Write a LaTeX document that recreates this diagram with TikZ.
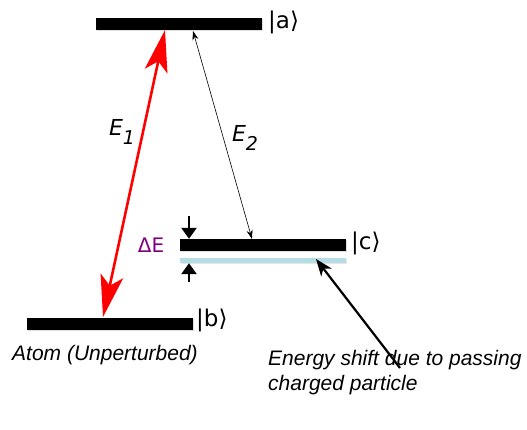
\documentclass[tikz,border=0pt]{standalone}
\usepackage{fontspec}
\setmainfont{DejaVu Sans}
\newfontfamily\notefont{Liberation Sans}
\usetikzlibrary{arrows.meta, positioning, shadows}
\definecolor{shiftblue}{RGB}{180,222,228}
\definecolor{deltapurple}{RGB}{128,0,128}
\tikzset{
  level/.style={rectangle, fill=black, minimum width=166pt, minimum height=12pt, inner sep=0pt,
    drop shadow={opacity=0.25, shadow xshift=1.5pt, shadow yshift=-1.5pt}},
  shiftlevel/.style={rectangle, fill=shiftblue, minimum width=166pt, minimum height=5pt, inner sep=0pt,
    drop shadow={opacity=0.2, shadow xshift=1.5pt, shadow yshift=-1.5pt}},
  ket/.style={font=\fontsize{23}{26}\selectfont, inner sep=0pt, anchor=west},
  energy/.style={font=\fontsize{22}{26}\selectfont\itshape, inner sep=0pt},
  note/.style={font=\fontsize{21}{25}\selectfont\notefont\itshape, inner sep=0pt, align=left},
  redarrow/.style={red, line width=2.6pt, {Stealth[length=42pt, width=23pt, inset=10pt]}-{Stealth[length=42pt, width=23pt, inset=10pt]}},
  thinarrow/.style={black, line width=0.6pt, {Stealth[length=9pt, width=6pt]}-{Stealth[length=9pt, width=6pt]}},
  gaparrow/.style={black, line width=2.6pt, -{Triangle[length=11pt, width=15pt]}},
  pointer/.style={black, line width=2.2pt, -{Stealth[length=17pt, width=13pt, inset=5pt]}}
}
\newcommand{\lowsub}[1]{\raisebox{-0.38em}{\fontsize{19}{20}\selectfont #1}}

\begin{document}
\begin{tikzpicture}[x=1pt, y=-1pt]
  \useasboundingbox (0,0) rectangle (527,430);

  % --- Niveles de energia ---
  \node[level] (levA) at (178.5,24) {};
  \node[level] (levB) at (109.5,323.5) {};
  \node[level] (levC) at (262.5,245) {};
  \node[shiftlevel] (shiftC) at (262.5,260.5) {};

  \node[ket] (ketA) at (268,22) {|a⟩};
  \node[ket] (ketB) at (196,320) {|b⟩};
  \node[ket] (ketC) at (351,243) {|c⟩};

  % --- Transiciones ---
  \coordinate (e1top) at (165,30);
  \coordinate (e1bot) at (103,317);
  \coordinate (e2top) at (193,31);
  \coordinate (e2bot) at (252,239);
  \draw[redarrow] (e1top) -- (e1bot);
  \draw[thinarrow] (e2top) -- (e2bot);
  \node[energy] (labE1) at (122,132) {E\lowsub{1}};
  \node[energy] (labE2) at (245,138) {E\lowsub{2}};

  % --- Desplazamiento Delta E ---
  \coordinate (gapup) at (189,216);
  \coordinate (gapdown) at (189,282);
  \draw[gaparrow] (gapup) -- (levC.north -| gapup);
  \draw[gaparrow] (gapdown) -- (shiftC.south -| gapdown);
  \node[font=\fontsize{20}{22}\selectfont, text=deltapurple, inner sep=0pt] (labDE) at (151,245) {ΔE};

  % --- Notas ---
  \coordinate (tail) at (400,368);
  \coordinate (head) at (316,259);
  \draw[pointer] (tail) -- (head);
  \node[note, anchor=base west] (noteAtom) at (12,360) {Atom (Unperturbed)};
  \node[note, anchor=base west] (noteShift) at (268,390) {Energy shift due to passing\\charged particle};
\end{tikzpicture}
\end{document}
